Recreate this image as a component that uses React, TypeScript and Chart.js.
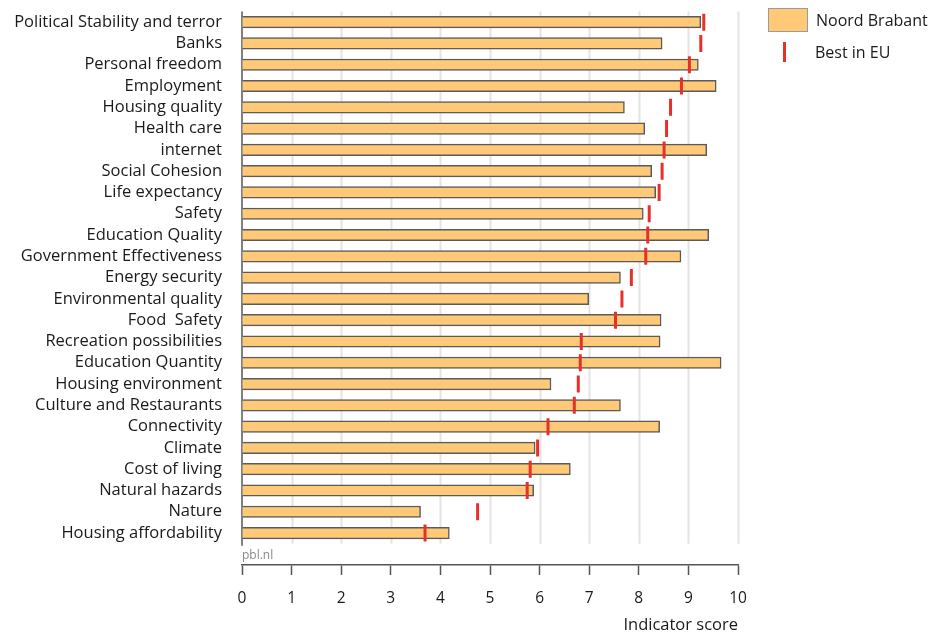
import React, { useEffect, useRef } from "react";
import { Chart, registerables } from "chart.js";

Chart.register(...registerables);

const categories = [
  "Political Stability and terror",
  "Banks",
  "Personal freedom",
  "Employment",
  "Housing quality",
  "Health care",
  "internet",
  "Social Cohesion",
  "Life expectancy",
  "Safety",
  "Education Quality",
  "Government Effectiveness",
  "Energy security",
  "Environmental quality",
  "Food  Safety",
  "Recreation possibilities",
  "Education Quantity",
  "Housing environment",
  "Culture and Restaurants",
  "Connectivity",
  "Climate",
  "Cost of living",
  "Natural hazards",
  "Nature",
  "Housing affordability",
];

const noordBrabant = [
  9.25, 8.47, 9.2, 9.56, 7.71, 8.12, 9.37, 8.26, 8.34, 8.09, 9.41, 8.85, 7.63,
  6.99, 8.45, 8.43, 9.66, 6.23, 7.63, 8.42, 5.91, 6.62, 5.88, 3.6, 4.18,
];

const bestInEU = [
  9.31, 9.25, 9.02, 8.86, 8.64, 8.56, 8.51, 8.47, 8.41, 8.21, 8.18, 8.14, 7.85,
  7.66, 7.53, 6.84, 6.82, 6.78, 6.7, 6.17, 5.96, 5.81, 5.75, 4.75, 3.69,
];

const xTicks = [0, 1, 2, 3, 4, 5, 6, 7, 8, 9, 10];

const FONT = "'Open Sans', sans-serif";
const BAR_FILL = "#FFC978";
const BAR_BORDER = "#5a5a5a";
const RED = "#E8302A";

export default function App() {
  const ref = useRef<HTMLCanvasElement | null>(null);

  useEffect(() => {
    if (!ref.current) return;
    const labels = [...categories, ""];

    const decor = {
      id: "decor",
      beforeDatasetsDraw(chart: any) {
        const { ctx, chartArea, scales } = chart;
        const xs = scales.x;
        const n = labels.length;
        const h = (chartArea.bottom - chartArea.top) / n;
        const gridBottom = chartArea.top + categories.length * h;
        ctx.save();
        ctx.strokeStyle = "#e4e4e4";
        ctx.lineWidth = 2;
        xTicks.forEach((v) => {
          if (v === 0) return;
          const px = Math.round(xs.getPixelForValue(v)) + 0.5;
          ctx.beginPath();
          ctx.moveTo(px, chartArea.top);
          ctx.lineTo(px, gridBottom);
          ctx.stroke();
        });
        ctx.strokeStyle = "#555";
        ctx.lineWidth = 1.5;
        const x0 = xs.getPixelForValue(0);
        ctx.beginPath();
        ctx.moveTo(x0, chartArea.top);
        ctx.lineTo(x0, gridBottom + 2);
        ctx.stroke();
        ctx.restore();
      },
      afterDraw(chart: any) {
        const { ctx, chartArea, scales } = chart;
        const n = labels.length;
        const h = (chartArea.bottom - chartArea.top) / n;
        const gridBottom = chartArea.top + categories.length * h;
        ctx.save();
        ctx.fillStyle = "#8a8a8a";
        ctx.font = `12px ${FONT}`;
        ctx.textBaseline = "middle";
        ctx.textAlign = "left";
        ctx.fillText("pbl.nl", scales.x.getPixelForValue(0), gridBottom + 12);
        ctx.restore();
      },
    };

    const chart = new Chart(ref.current, {
      type: "bar",
      data: {
        labels,
        datasets: [
          {
            label: "Noord Brabant",
            data: noordBrabant,
            backgroundColor: BAR_FILL,
            borderColor: BAR_BORDER,
            borderWidth: 1.5,
            barThickness: 11.5,
            order: 2,
          } as any,
          {
            type: "line",
            label: "Best in EU",
            data: bestInEU,
            showLine: false,
            pointStyle: "line",
            rotation: 90,
            pointRadius: 8.5,
            pointHoverRadius: 8.5,
            borderColor: RED,
            backgroundColor: RED,
            pointBorderWidth: 3,
            borderWidth: 3,
            order: 1,
          } as any,
        ],
      },
      options: {
        indexAxis: "y",
        animation: false,
        responsive: true,
        maintainAspectRatio: false,
        layout: { padding: { top: 5, left: 8, right: 196, bottom: 0 } },
        plugins: {
          legend: { display: false },
          tooltip: { enabled: false },
        },
        scales: {
          y: {
            type: "category",
            offset: true,
            grid: {
              display: true,
              drawOnChartArea: false,
              drawTicks: true,
              tickLength: 20,
              tickColor: "rgba(0,0,0,0)",
            },
            border: { display: false },
            afterFit: (s: any) => {
              s.width = 234;
            },
            ticks: {
              padding: 0,
              color: "#1a1a1a",
              font: { family: FONT, size: 16.5, lineHeight: 0.8 },
              autoSkip: false,
            },
          },
          x: {
            type: "linear",
            min: 0,
            max: 10,
            afterBuildTicks: (s: any) => {
              s.ticks = xTicks.map((v) => ({ value: v }));
            },
            afterFit: (s: any) => {
              s.height = 72;
            },
            grid: {
              display: true,
              drawOnChartArea: false,
              drawTicks: true,
              tickLength: 10,
              tickColor: "#555",
              tickWidth: 1.5,
            },
            border: { display: true, color: "#555", width: 1.5 },
            ticks: {
              padding: 14,
              color: "#1a1a1a",
              font: { family: FONT, size: 15.5 },
            },
            title: {
              display: true,
              text: "Indicator score",
              align: "end",
              color: "#1a1a1a",
              font: { family: FONT, size: 16.5 },
              padding: { top: 4, bottom: 2 },
            },
          },
        },
      },
      plugins: [decor],
    });

    return () => chart.destroy();
  }, []);

  return (
    <div
      style={{
        position: "absolute",
        left: 0,
        top: 0,
        width: 934,
        height: 637,
        background: "#fff",
      }}
    >
      <canvas ref={ref} />
      <div
        style={{
          position: "absolute",
          left: 768,
          top: 8,
          fontFamily: FONT,
          fontSize: 16,
          color: "#1a1a1a",
        }}
      >
        <div style={{ display: "flex", alignItems: "center", height: 24 }}>
          <span
            style={{
              display: "inline-block",
              width: 38,
              height: 22,
              background: BAR_FILL,
              border: "1px solid #9a9a9a",
              marginRight: 8,
            }}
          />
          <span>Noord Brabant</span>
        </div>
        <div
          style={{
            display: "flex",
            alignItems: "center",
            height: 24,
            marginTop: 8,
          }}
        >
          <span
            style={{
              display: "inline-block",
              width: 40,
              height: 24,
              marginRight: 7,
              position: "relative",
            }}
          >
            <span
              style={{
                position: "absolute",
                left: 15,
                top: 2,
                width: 3,
                height: 20,
                background: RED,
              }}
            />
          </span>
          <span>Best in EU</span>
        </div>
      </div>
    </div>
  );
}
